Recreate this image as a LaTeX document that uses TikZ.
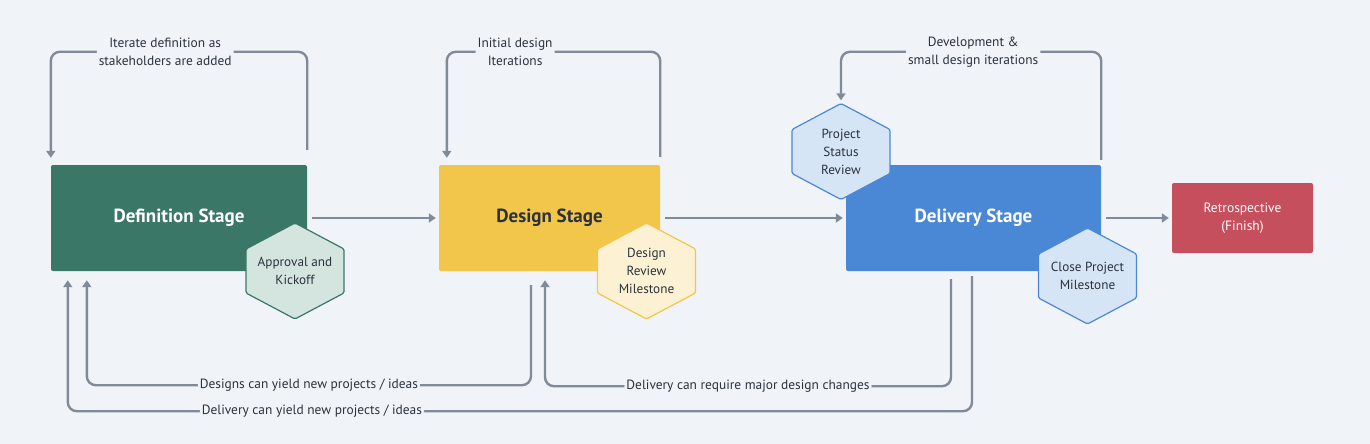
\documentclass[tikz,border=0pt]{standalone}
\usepackage{fontspec}
\setmainfont{PT Sans}
\usepackage{tikz}
\usetikzlibrary{positioning,arrows.meta}

\definecolor{bgc}{HTML}{F0F4F8}
\definecolor{linec}{HTML}{7F8B99}
\definecolor{txtc}{HTML}{2B323C}
\definecolor{defc}{HTML}{3A7766}
\definecolor{defl}{HTML}{D4E4DF}
\definecolor{desc}{HTML}{F2C54B}
\definecolor{desl}{HTML}{FCF1D2}
\definecolor{delc}{HTML}{4A88D6}
\definecolor{dell}{HTML}{D6E5F6}
\definecolor{retc}{HTML}{C64F5D}

% hexagon: name, centre, fill, border, text
\newcommand{\hexnode}[5]{%
    \filldraw[fill=#3, draw=#4, line width=1.2pt, rounded corners=1.5pt]
        (#2) ++(0,-48) -- ++(49,26) -- ++(0,44) -- ++(-49,26) -- ++(-49,-26) -- ++(0,-44) -- cycle;
    \node[hextext] (#1) at (#2) {#5};}

\begin{document}
\begin{tikzpicture}[x=1pt, y=-1pt,
        stage/.style={rounded corners=2pt, text=white, inner sep=0pt,
                      font=\fontsize{19}{22}\selectfont\bfseries},
        hextext/.style={align=center, text=txtc, inner sep=0pt,
                        minimum width=98pt, minimum height=96pt,
                        font=\fontsize{13.2}{18}\selectfont},
        link/.style={draw=linec, line width=2.4pt, rounded corners=9pt,
                     -{Triangle[length=7pt,width=9pt]}},
        lbl/.style={fill=bgc, text=txtc, align=center, inner sep=2pt,
                    font=\fontsize{13.4}{18}\selectfont}]
    \fill[bgc] (0,0) rectangle (1370,444);
    \useasboundingbox (0,0) rectangle (1370,444);

    % stages
    \node[stage, fill=defc, minimum width=256pt, minimum height=106pt] (def) at (179,218) {Definition Stage};
    \node[stage, fill=desc, text=txtc, minimum width=221pt, minimum height=106pt] (des) at (549.5,218) {Design Stage};
    \node[stage, fill=delc, minimum width=255pt, minimum height=106pt] (del) at (973.5,218) {Delivery Stage};
    \node[stage, fill=retc, minimum width=141pt, minimum height=70pt, align=center,
          font=\fontsize{13.5}{18}\selectfont] (ret) at (1242.5,218) {Retrospective\\(Finish)};

    % milestones
    \hexnode{ak}{295,271}{defl}{defc}{Approval and\\Kickoff}
    \hexnode{drm}{646.5,271}{desl}{desc}{Design\\Review\\Milestone}
    \hexnode{psr}{841,151.5}{dell}{delc}{Project\\Status\\Review}
    \hexnode{cpm}{1087.5,276}{dell}{delc}{Close Project\\Milestone}

    % flow
    \draw[link] ([xshift=5pt]def.east) -- ([xshift=-3pt]des.west);
    \draw[link] ([xshift=5pt]des.east) -- ([xshift=-3pt]del.west);
    \draw[link] ([xshift=5pt]del.east) -- ([xshift=-3pt]ret.west);

    % iterations
    \draw[link] ([yshift=15pt]def.north east) -- ++(0,-98)
        -| node[lbl, pos=0.277] {Iterate definition as\\stakeholders are added} ([yshift=7pt]def.north west);
    \draw[link] ([yshift=8pt]des.north east) -- ++(0,-105)
        -| node[lbl, pos=0.34] {Initial design\\Iterations} ([xshift=8pt, yshift=7pt]des.north west);
    \draw[link] ([yshift=5pt]del.north east) -- ++(0,-108)
        -| node[lbl, pos=0.246] {Development \&\\small design iterations} ([yshift=3pt]psr.north);

    % feedback
    \draw[link] ([xshift=-18.5pt, yshift=-14pt]des.south) -- ++(0,100)
        -| node[lbl, pos=0.25] {Designs can yield new projects / ideas} ([xshift=36pt, yshift=-9pt]def.south west);
    \draw[link] ([xshift=-22.5pt, yshift=-8pt]del.south) -- ++(0,107)
        -| node[lbl, pos=0.25] {Delivery can require major design changes} ([xshift=-4.5pt, yshift=-9pt]des.south);
    \draw[link] ([xshift=-1.5pt, yshift=-5pt]del.south) -- ++(0,135)
        -| node[lbl, pos=0.365] {Delivery can yield new projects / ideas} ([xshift=17pt, yshift=-9pt]def.south west);
\end{tikzpicture}
\end{document}
